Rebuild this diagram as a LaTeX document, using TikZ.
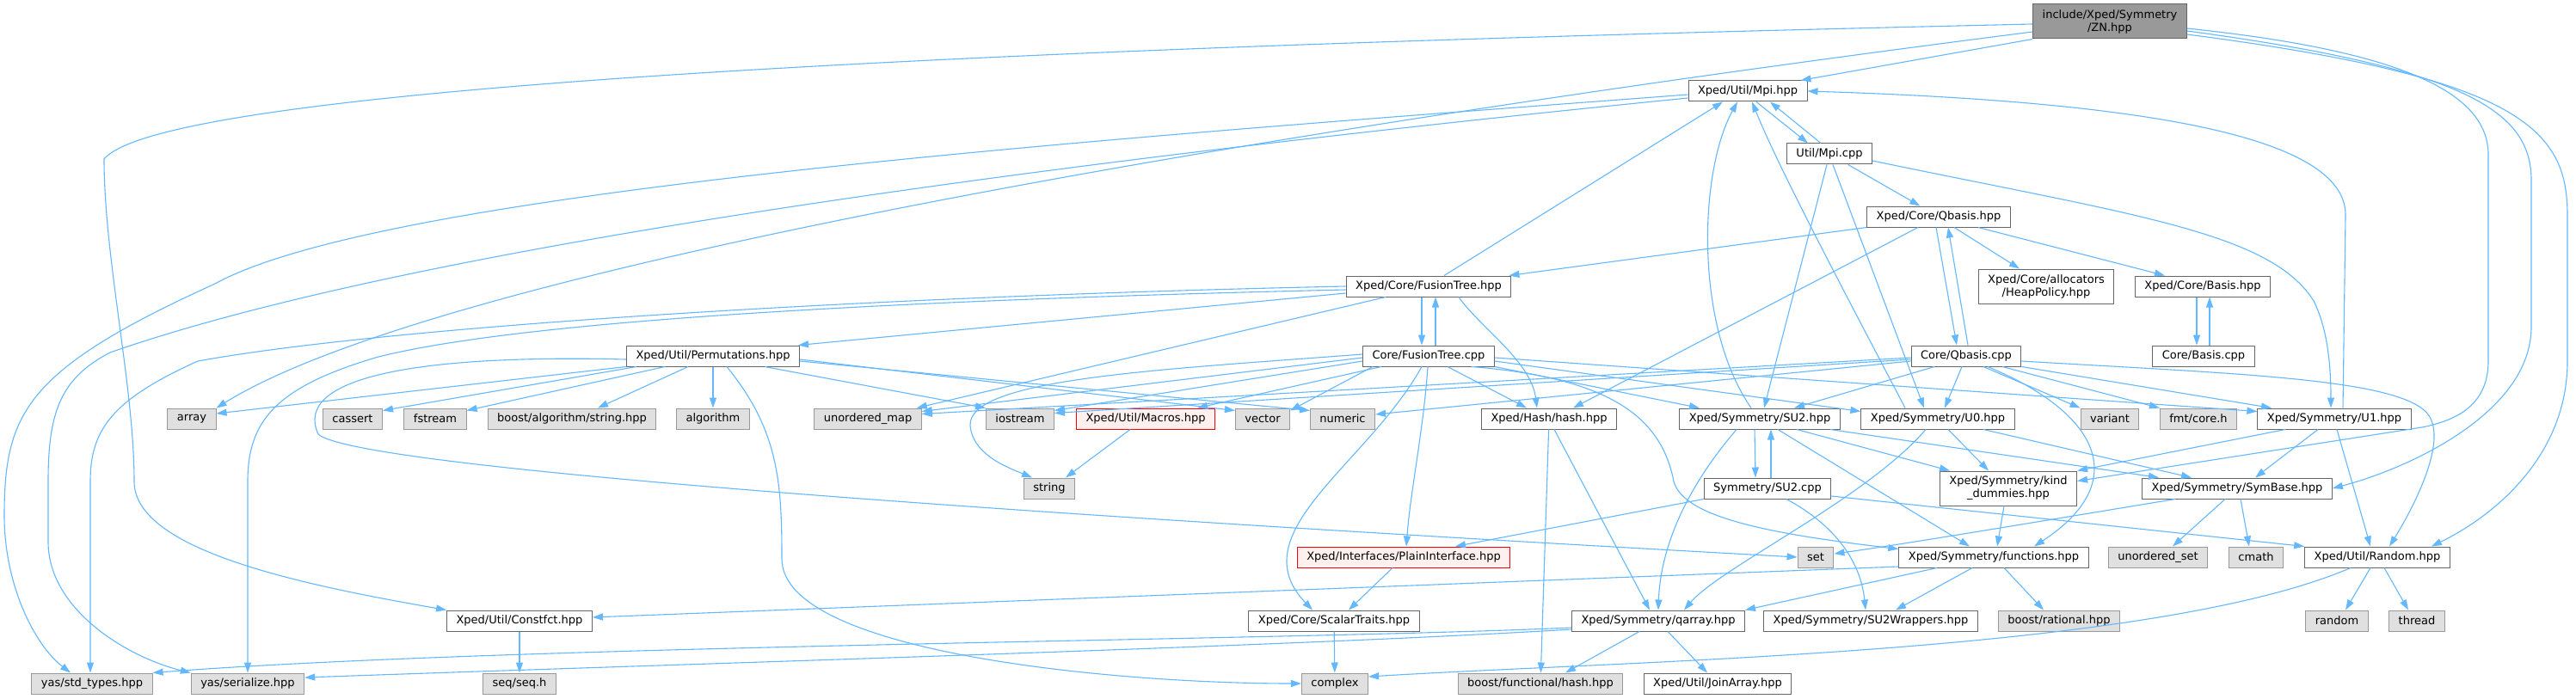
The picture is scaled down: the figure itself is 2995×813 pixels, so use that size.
\documentclass[tikz,border=0pt]{standalone}
\usepackage{fontspec}
\setmainfont{DejaVu Sans}
\usepackage{tikz}
\usetikzlibrary{arrows.meta}
\definecolor{edgeblue}{HTML}{63B8FF}
\definecolor{hdrline}{HTML}{666666}
\definecolor{sysfill}{HTML}{E0E0E0}
\definecolor{sysline}{HTML}{999999}
\definecolor{rootfill}{HTML}{999999}
\definecolor{warnfill}{HTML}{FFF0F0}
\definecolor{warnline}{HTML}{FF0000}
\tikzset{
  incarrow/.style={-{Triangle[length=12pt,width=8pt]}, draw=edgeblue, line width=1.1pt},
  filebox/.style={draw, line width=1pt, inner xsep=11pt, inner ysep=0pt, minimum height=24pt, align=center},
  hdrbox/.style={filebox, draw=hdrline, fill=white},
  sysbox/.style={filebox, draw=sysline, fill=sysfill},
  warnbox/.style={filebox, draw=warnline, fill=warnfill},
  rootbox/.style={filebox, draw=hdrline, fill=rootfill, minimum height=40pt}
}

\begin{document}
\begin{tikzpicture}[x=1pt, y=-1pt, every node/.style={font=\fontsize{13}{15}\selectfont}]
  \path[use as bounding box, fill=white] (0,0) rectangle (2995,813);
  % upper part
  \node[rootbox] (zn) at (2453,25) {include/Xped/Symmetry\\/ZN.hpp};
  \node[hdrbox] (mpih) at (2032,106) {Xped/Util/Mpi.hpp};
  \node[hdrbox] (mpic) at (2127,179) {Util/Mpi.cpp};
  \node[hdrbox] (qbh) at (2254,252) {Xped/Core/Qbasis.hpp};
  \node[hdrbox] (fth) at (1661,333) {Xped/Core/FusionTree.hpp};
  \node[hdrbox, minimum height=40pt] (heap) at (2379,333) {Xped/Core/allocators\\/HeapPolicy.hpp};
  \node[hdrbox] (bash) at (2561,333) {Xped/Core/Basis.hpp};
  \node[hdrbox] (perm) at (829,414) {Xped/Util/Permutations.hpp};
  \node[hdrbox] (ftc) at (1661,414) {Core/FusionTree.cpp};
  \node[hdrbox] (qbc) at (2286,414) {Core/Qbasis.cpp};
  \node[hdrbox] (basc) at (2562,414) {Core/Basis.cpp};
  % row of includes
  \node[sysbox] (array) at (223,487) {array};
  \node[sysbox] (cassert) at (410,487) {cassert};
  \node[sysbox] (fstream) at (506,487) {fstream};
  \node[sysbox] (boostalg) at (665,487) {boost/algorithm/string.hpp};
  \node[sysbox] (algo) at (829,487) {algorithm};
  \node[sysbox] (umap) at (1009,487) {unordered\_map};
  \node[sysbox] (iostream) at (1186,487) {iostream};
  \node[warnbox] (macros) at (1332,487) {Xped/Util/Macros.hpp};
  \node[sysbox] (vector) at (1468,487) {vector};
  \node[sysbox] (numeric) at (1561,487) {numeric};
  \node[hdrbox] (hash) at (1801,487) {Xped/Hash/hash.hpp};
  \node[hdrbox] (su2h) at (2046,487) {Xped/Symmetry/SU2.hpp};
  \node[hdrbox] (u0h) at (2253,487) {Xped/Symmetry/U0.hpp};
  \node[sysbox] (variant) at (2453,487) {variant};
  \node[sysbox] (fmt) at (2556,487) {fmt/core.h};
  \node[hdrbox] (u1h) at (2714,487) {Xped/Symmetry/U1.hpp};
  \node[sysbox] (string) at (1220,568) {string};
  \node[hdrbox] (su2c) at (2055,568) {Symmetry/SU2.cpp};
  \node[hdrbox, minimum height=40pt] (kind) at (2335,568) {Xped/Symmetry/kind\\\_dummies.hpp};
  \node[hdrbox] (symb) at (2601,568) {Xped/Symmetry/SymBase.hpp};
  \node[warnbox] (plain) at (1632,648) {Xped/Interfaces/PlainInterface.hpp};
  \node[sysbox] (set) at (2111,648) {set};
  \node[hdrbox] (func) at (2318,648) {Xped/Symmetry/functions.hpp};
  \node[sysbox] (uset) at (2509,648) {unordered\_set};
  \node[sysbox] (cmath) at (2623,648) {cmath};
  \node[hdrbox] (rand) at (2764,648) {Xped/Util/Random.hpp};
  \node[hdrbox] (constf) at (604,722) {Xped/Util/Constfct.hpp};
  \node[hdrbox] (scalar) at (1551,722) {Xped/Core/ScalarTraits.hpp};
  \node[hdrbox] (qarr) at (1928,722) {Xped/Symmetry/qarray.hpp};
  \node[hdrbox] (su2w) at (2175,722) {Xped/Symmetry/SU2Wrappers.hpp};
  \node[sysbox] (brat) at (2394,722) {boost/rational.hpp};
  \node[sysbox] (random) at (2717,722) {random};
  \node[sysbox] (thread) at (2810,722) {thread};
  \node[sysbox] (stdt) at (107,795) {yas/std\_types.hpp};
  \node[sysbox] (ser) at (288,795) {yas/serialize.hpp};
  \node[sysbox] (seq) at (604,795) {seq/seq.h};
  \node[sysbox] (complex) at (1552,795) {complex};
  \node[sysbox] (bfh) at (1791,795) {boost/functional/hash.hpp};
  \node[hdrbox] (join) at (1997,795) {Xped/Util/JoinArray.hpp};

  % ZN.hpp
  \draw[incarrow] (zn.south west) -- ([xshift=-8pt]mpih.north east);
  \draw[incarrow] ([yshift=-12pt]zn.west) .. controls (1400,160) and (500,320) .. (array.north east);
  \draw[incarrow] ([yshift=-3pt]zn.west) .. controls (1400,50) and (200,90) .. (121,185) .. controls (121,300) and (156,450) .. (156,560) .. controls (156,640) and (350,680) .. (constf.north west);
  \draw[incarrow] ([yshift=-8pt]zn.east) .. controls (2800,60) and (2893,110) .. (2893,180) -- (2893,420) .. controls (2893,475) and (2850,490) .. (2816,497) -- ([yshift=-12pt]kind.north east);
  \draw[incarrow] ([yshift=-11pt]zn.east) .. controls (2870,80) and (2943,130) .. (2943,210) -- (2943,380) .. controls (2943,480) and (2800,545) .. (symb.east);
  \draw[incarrow] ([yshift=-15pt]zn.east) .. controls (2930,90) and (2985,150) .. (2985,250) -- (2985,420) .. controls (2985,530) and (2900,600) .. ([xshift=-22pt]rand.north east);
  % Mpi
  \draw[incarrow] ([xshift=10pt]mpih.south) -- ([xshift=-25pt]mpic.north);
  \draw[incarrow] ([xshift=-10pt]mpic.north) -- ([xshift=26pt]mpih.south);
  \draw[incarrow] ([yshift=-4pt]mpih.west) .. controls (1300,160) and (450,220) .. (250,330) .. controls (30,430) and (5,480) .. (5,600) .. controls (5,680) and (40,750) .. ([xshift=-25pt]stdt.north);
  \draw[incarrow] ([yshift=-8pt]mpih.west) .. controls (1300,180) and (500,280) .. (128,410) .. controls (70,440) and (56,480) .. (56,560) -- (56,630) .. controls (56,710) and (150,765) .. (ser.north west);
  \draw[incarrow] (mpic) -- (qbh);
  \draw[incarrow] ([xshift=-3pt]mpic.south) -- ([xshift=5pt]su2h.north);
  \draw[incarrow] ([xshift=4pt]mpic.south) -- ([xshift=-16pt]u0h.north);
  \draw[incarrow] ([yshift=-8pt]mpic.east) .. controls (2480,250) and (2640,270) .. (2690,350) .. controls (2705,380) and (2710,420) .. ([xshift=-4pt]u1h.north);
  \draw[incarrow] ([xshift=10pt]u1h.north) -- (2727,250) .. controls (2727,170) and (2550,120) .. (mpih.east);
  \draw[incarrow] ([xshift=-10pt]su2h.north) .. controls (1970,380) and (1975,200) .. ([xshift=-12pt]mpih.south);
  \draw[incarrow] ([xshift=-38pt]u0h.north) .. controls (2150,350) and (2070,200) .. ([xshift=5pt]mpih.south);
  \draw[incarrow] ([xshift=18pt]fth.north) -- ([xshift=-29pt]mpih.south);
  % Qbasis / Basis
  \draw[incarrow] (qbh.south west) -- ([xshift=-3pt]fth.north east);
  \draw[incarrow] ([xshift=-24pt]qbh.south) -- ([xshift=28pt]hash.north);
  \draw[incarrow] ([xshift=-3pt]qbh.south) -- ([xshift=-11pt]qbc.north);
  \draw[incarrow] ([xshift=2pt]qbc.north) -- ([xshift=11pt]qbh.south);
  \draw[incarrow] ([xshift=18pt]qbh.south) -- ([xshift=-31pt]heap.north);
  \draw[incarrow] ([xshift=46pt]qbh.south) -- ([xshift=-44pt]bash.north);
  \draw[incarrow] ([xshift=-7pt]bash.south) -- ([xshift=-8pt]basc.north);
  \draw[incarrow] ([xshift=7pt]basc.north) -- ([xshift=8pt]bash.south);
  % FusionTree.hpp
  \draw[incarrow] ([xshift=-8pt]fth.south) -- ([xshift=-8pt]ftc.north);
  \draw[incarrow] ([xshift=8pt]ftc.north) -- ([xshift=8pt]fth.south);
  \draw[incarrow] ([yshift=-8pt]fth.west) -- ([xshift=-2pt]perm.north east);
  \draw[incarrow] (fth.west) .. controls (1000,345) and (450,380) .. (230,420) .. controls (130,465) and (105,500) .. (105,560) -- ([xshift=-2pt]stdt.north);
  \draw[incarrow] ([yshift=-4pt]fth.west) .. controls (1000,350) and (600,375) .. (440,415) .. controls (320,450) and (288,490) .. (288,560) -- (ser.north);
  \draw[incarrow] ([xshift=-50pt]fth.south) -- ([xshift=-6pt]umap.north east);
  \draw[incarrow] ([xshift=35pt]fth.south) .. controls (1720,380) and (1780,420) .. ([xshift=-14pt]hash.north);
  % Permutations
  \draw[incarrow] (perm.south west) -- ([yshift=6pt]array.east);
  \draw[incarrow] ([xshift=12pt]perm.south west) -- ([yshift=-3pt]cassert.north east);
  \draw[incarrow] ([xshift=45pt]perm.south west) -- ([yshift=-3pt]fstream.north east);
  \draw[incarrow] ([xshift=-29pt]perm.south) -- ([xshift=30pt]boostalg.north);
  \draw[incarrow] (perm) -- (algo);
  \draw[incarrow] ([yshift=-4pt]perm.west) .. controls (480,412) and (340,440) .. (370,505) .. controls (420,550) and (1400,610) .. (set.west);
  \draw[incarrow] ([xshift=16pt]perm.south) .. controls (905,500) and (909,560) .. (909,650) .. controls (909,760) and (1300,795) .. (complex.west);
  \draw[incarrow] ([xshift=60pt]perm.south) -- (iostream.north west);
  \draw[incarrow] ([yshift=-4pt]perm.east) -- ([yshift=-3pt]vector.north west);
  \draw[incarrow] ([yshift=-6pt]perm.east) -- ([yshift=-3pt]numeric.north west);
  % FusionTree.cpp
  \draw[incarrow] ([yshift=-2pt]ftc.west) -- ([yshift=-4pt]umap.north east);
  \draw[incarrow] ([yshift=-6pt]ftc.west) -- ([yshift=-3pt]iostream.north east);
  \draw[incarrow] ([yshift=2pt]ftc.west) .. controls (1350,430) and (1125,440) .. (1128,495) .. controls (1131,530) and (1175,545) .. ([xshift=-20pt]string.north);
  \draw[incarrow] ([xshift=-55pt]ftc.south) -- ([xshift=60pt]macros.north);
  \draw[incarrow] ([xshift=-65pt]ftc.south) -- ([yshift=-3pt]vector.north east);
  \draw[incarrow] ([xshift=22pt]ftc.south) -- ([xshift=-26pt]hash.north);
  \draw[incarrow] (ftc.south east) -- ([xshift=-70pt]su2h.north);
  \draw[incarrow] ([yshift=-6pt]ftc.east) -- ([yshift=-4pt]u0h.north west);
  \draw[incarrow] ([yshift=-2pt]ftc.east) -- ([yshift=-4pt]u1h.north west);
  \draw[incarrow] ([xshift=50pt]ftc.south) .. controls (1880,440) and (1930,490) .. (1945,555) .. controls (1950,600) and (2050,620) .. ([yshift=-3pt]func.north west);
  \draw[incarrow] ([xshift=-1pt]ftc.south) .. controls (1655,500) and (1640,570) .. ([xshift=3pt]plain.north);
  \draw[incarrow] ([xshift=-8pt]ftc.south) .. controls (1590,540) and (1440,620) .. ([xshift=-25pt]scalar.north);
  % Qbasis.cpp
  \draw[incarrow] ([xshift=-37pt]qbc.south) -- ([xshift=40pt]su2h.north);
  \draw[incarrow] ([xshift=-5pt]qbc.south) -- ([xshift=8pt]u0h.north);
  \draw[incarrow] ([xshift=20pt]qbc.south) -- (variant.north west);
  \draw[incarrow] ([xshift=42pt]qbc.south) -- (fmt.north west);
  \draw[incarrow] (qbc.south east) -- ([xshift=-73pt]u1h.north);
  \draw[incarrow] ([yshift=-6pt]qbc.east) .. controls (2600,435) and (2800,440) .. (2825,485) .. controls (2845,520) and (2800,600) .. ([xshift=14pt]rand.north);
  \draw[incarrow] ([xshift=25pt]qbc.south) .. controls (2440,480) and (2480,560) .. ([xshift=47pt]func.north);
  \draw[incarrow] ([yshift=-2pt]qbc.west) -- ([yshift=-7pt]umap.north east);
  \draw[incarrow] ([yshift=-4pt]qbc.west) -- ([yshift=-6pt]iostream.north east);
  \draw[incarrow] ([yshift=-6pt]qbc.west) -- ([yshift=5pt]numeric.east);
  % SU2 / U0 / U1
  \draw[incarrow] ([xshift=-6pt]su2h.south) -- ([xshift=-14pt]su2c.north);
  \draw[incarrow] ([xshift=4pt]su2c.north) -- ([xshift=13pt]su2h.south);
  \draw[incarrow] ([xshift=43pt]su2h.south) -- ([xshift=-68pt]kind.north);
  \draw[incarrow] ([xshift=82pt]su2h.south) -- ([xshift=-91pt]symb.north);
  \draw[incarrow] ([xshift=21pt]su2h.south) -- ([xshift=-28pt]func.north);
  \draw[incarrow] ([xshift=-27pt]su2h.south) .. controls (1950,580) and (1930,650) .. (qarr.north);
  \draw[incarrow] ([xshift=12pt]u0h.south) -- ([xshift=-23pt]kind.north);
  \draw[incarrow] ([xshift=53pt]u0h.south) -- ([xshift=-53pt]symb.north);
  \draw[incarrow] ([xshift=-14pt]u0h.south) .. controls (2170,580) and (2000,660) .. ([xshift=30pt]qarr.north);
  \draw[incarrow] ([xshift=-57pt]u1h.south) -- (kind.north east);
  \draw[incarrow] ([xshift=-19pt]u1h.south) -- ([xshift=21pt]symb.north);
  \draw[incarrow] ([xshift=3pt]u1h.south) -- ([xshift=-8pt]rand.north);
  \draw[incarrow] (su2c.south west) -- ([xshift=60pt]plain.north);
  \draw[incarrow] ([xshift=22pt]su2c.south) .. controls (2150,620) and (2165,670) .. ([xshift=-6pt]su2w.north);
  \draw[incarrow] ([yshift=-9pt]su2c.east) -- (rand.north west);
  % lower part
  \draw[incarrow] ([xshift=-5pt]kind.south) -- ([xshift=4pt]func.north);
  \draw[incarrow] ([xshift=-72pt]symb.south) .. controls (2350,610) and (2200,635) .. ([yshift=4pt]set.east);
  \draw[incarrow] ([xshift=-14pt]symb.south) -- ([xshift=17pt]uset.north);
  \draw[incarrow] ([xshift=4pt]symb.south) -- ([xshift=-8pt]cmath.north);
  \draw[incarrow] ([xshift=-66pt]func.south) -- (qarr.north east);
  \draw[incarrow] ([xshift=-25pt]func.south) -- ([xshift=29pt]su2w.north);
  \draw[incarrow] ([xshift=12pt]func.south) -- ([xshift=-18pt]brat.north);
  \draw[incarrow] ([yshift=-11pt]func.west) -- ([yshift=4pt]constf.east);
  \draw[incarrow] ([xshift=-8pt]rand.south) -- ([xshift=10pt]random.north);
  \draw[incarrow] ([xshift=8pt]rand.south) -- ([xshift=-10pt]thread.north);
  \draw[incarrow] ([xshift=-31pt]rand.south) .. controls (2500,760) and (1900,768) .. ([yshift=8pt]complex.east);
  \draw[incarrow] ([xshift=-13pt]plain.south) -- ([xshift=17pt]scalar.north);
  \draw[incarrow] (scalar) -- (complex);
  \draw[incarrow] ([xshift=-18pt]macros.south) -- ([xshift=19pt]string.north);
  \draw[incarrow] (hash) -- (bfh);
  \draw[incarrow] ([xshift=6pt]hash.south) -- ([xshift=-10pt]qarr.north);
  \draw[incarrow] ([xshift=-22pt]qarr.south) -- ([xshift=29pt]bfh.north);
  \draw[incarrow] ([xshift=11pt]qarr.south) -- ([xshift=-12pt]join.north);
  \draw[incarrow] ([yshift=-8pt]qarr.west) .. controls (1500,745) and (600,750) .. (stdt.north east);
  \draw[incarrow] ([yshift=-10pt]qarr.west) .. controls (1500,752) and (800,772) .. ([yshift=7pt]ser.east);
  \draw[incarrow] (constf) -- (seq);
\end{tikzpicture}
\end{document}
